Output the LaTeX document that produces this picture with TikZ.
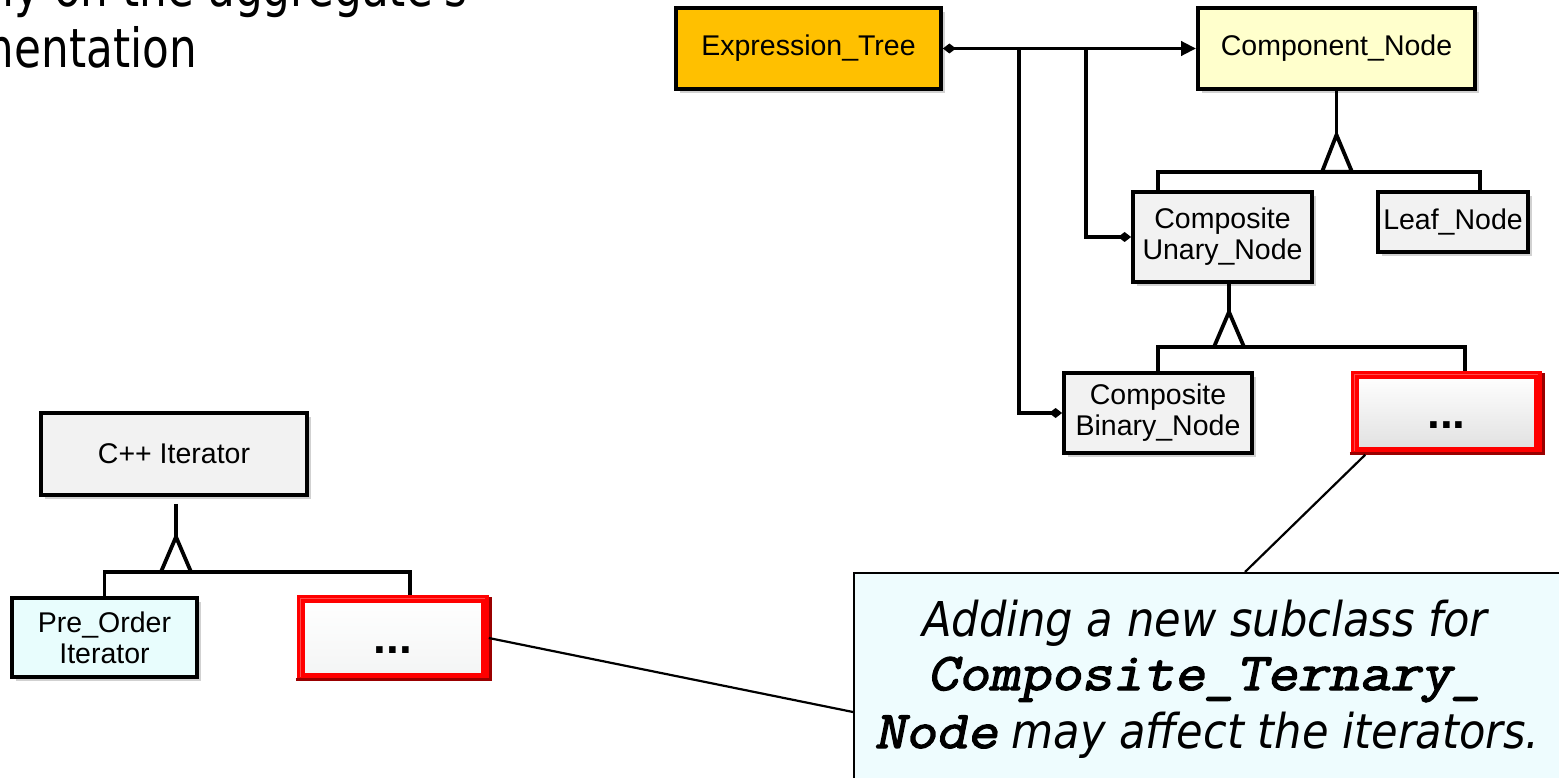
\documentclass[tikz,border=0pt]{standalone}
\usepackage{fontspec}
\setmainfont{Liberation Sans}
\newfontfamily\tahoma{DejaVu Sans Condensed}
\newfontfamily\tahomanar{DejaVu Sans Condensed}[FakeStretch=0.9]
\newfontfamily\cour{Latin Modern Mono}[FakeStretch=1.13,FakeBold=2.5,FakeSlant=0.2]
\usetikzlibrary{arrows.meta,shadows,calc}
\definecolor{etfill}{HTML}{FFC000}
\definecolor{cnfill}{HTML}{FFFFCC}
\definecolor{grayfill}{HTML}{F2F2F2}
\definecolor{cyanfill}{HTML}{E8FDFD}
\definecolor{calfill}{HTML}{EEFCFE}
\definecolor{redb}{HTML}{FF0000}
\definecolor{darkredb}{HTML}{9A0000}
\tikzset{
  shd/.style={drop shadow={shadow xshift=4pt,shadow yshift=-4pt,opacity=0.3,fill=black!60}},
  cls/.style={draw,line width=3.8pt,inner sep=0pt,align=center,shd,
    font=\fontsize{28.5}{31}\selectfont},
  redbox/.style={draw=redb,line width=7.5pt,inner sep=0pt,shd,
    font=\fontsize{46}{46}\selectfont\bfseries},
  conn/.style={line width=3.8pt},
  inh/.style={line width=3.8pt,fill=white,line join=miter},
  note/.style={line width=2.2pt},
}
\begin{document}
\begin{tikzpicture}[x=1pt,y=-1pt]
\useasboundingbox (0,0) rectangle (1559,778);
\clip (0,0) rectangle (1559,778);
% heading text (clipped)
\node[anchor=base east,inner sep=0,font=\tahomanar\fontsize{54}{60}\selectfont] (h1) at (468,7) {rely heavily on the aggregate's};
\node[anchor=base east,inner sep=0,font=\tahomanar\fontsize{54}{60}\selectfont] (h2) at (197,68) {implementation};
% top classes
\node[cls,fill=etfill,minimum width=265pt,minimum height=81pt] (ET) at (808.5,48.5) {Expression\_Tree};
\node[cls,fill=cnfill,minimum width=277pt,minimum height=81pt] (CN) at (1336.5,48.5) {Component\_Node};
\node[cls,fill=grayfill,minimum width=179pt,minimum height=90pt] (CU) at (1222.5,237) {Composite\\Unary\_Node};
\node[cls,fill=grayfill,minimum width=150pt,minimum height=60pt] (LN) at (1453,222) {Leaf\_Node};
\node[cls,fill=grayfill,minimum width=188pt,minimum height=80pt] (CB) at (1158,413) {Composite\\Binary\_Node};
\node[redbox,top color=white,bottom color=black!12,minimum width=183pt,minimum height=76pt] (D1) at (1446.5,413) {\smash{\raisebox{-15pt}{...}}};
% left classes
\node[cls,fill=grayfill,minimum width=266pt,minimum height=82pt] (CI) at (174,454) {C++ Iterator};
\node[cls,fill=cyanfill,minimum width=185pt,minimum height=79pt] (PO) at (104.5,637.5) {Pre\_Order\\Iterator};
\node[redbox,top color=white,bottom color=cyanfill!60!black!10,minimum width=184pt,minimum height=78pt] (D2) at (393,638) {\smash{\raisebox{-15pt}{...}}};
% bevel on red boxes
\foreach \b in {D1,D2}{
  \draw[darkredb,line width=3pt] ([shift={(-1.5pt,1.5pt)}]\b.south west) -- ([shift={(1.5pt,1.5pt)}]\b.south east) -- ([shift={(1.5pt,-1.5pt)}]\b.north east);
  \draw[redb!70!white,line width=1pt] ([shift={(3.5pt,4pt)}]\b.south west) -- ([shift={(3.5pt,-3.5pt)}]\b.north west) -- ([shift={(-4pt,-3.5pt)}]\b.north east);
}
% callout
\node[draw,line width=1.8pt,fill=calfill,minimum width=706pt,minimum height=230pt,anchor=north west,inner sep=0pt] (CA) at (853,572) {};
\node[anchor=base,inner sep=0pt,font=\tahoma\itshape\fontsize{48}{58}\selectfont] (t1) at (1205,636) {Adding a new subclass for};
\node[anchor=base,inner sep=0pt,font=\cour\upshape\fontsize{53}{58}\selectfont] (t2) at (1205,690) {Composite\_Ternary\_};
\node[anchor=base,inner sep=0pt,font=\tahoma\itshape\fontsize{48}{58}\selectfont] (t3) at (1207,748) {{\cour\upshape\fontsize{53}{58}\selectfont Node}\ may affect the iterators.};
% aggregation / association
\draw[conn,{Diamond[length=13pt,width=10pt]}-{Triangle[length=15pt,width=14pt]}] (ET.east) -- (CN.west);
\coordinate (j1) at ($(ET.east)!0.3!(CN.west)$);
\coordinate (j2) at ($(ET.east)!0.565!(CN.west)$);
\draw[conn,-{Diamond[length=13pt,width=10pt]}] (j2) |- (CU.west);
\draw[conn,-{Diamond[length=13pt,width=10pt]}] (j1) |- (CB.west);
% inheritance 1
\coordinate (b1) at ($(CN.south)+(0.5,81)$);
\draw[conn] (CN.south) -- ++(0,44) coordinate (a1);
\draw[conn] ([xshift=-64.5pt]CU.north) |- (b1) -| ([xshift=27pt]LN.north);
\draw[inh] (a1) -- ($(b1)+(-15,0)$) -- ($(b1)+(15,0)$) -- cycle;
% inheritance 2
\coordinate (b2) at ($(CU.south)+(6.5,63)$);
\draw[conn] ([xshift=6.5pt]CU.south) -- ++(0,28) coordinate (a2);
\draw[conn] (CB.north) |- (b2) -| ([xshift=18.5pt]D1.north);
\draw[inh] (a2) -- ($(b2)+(-15,0)$) -- ($(b2)+(15,0)$) -- cycle;
% inheritance 3
\coordinate (b3) at ($(CI.south)+(2,75)$);
\draw[conn] ([xshift=2pt,yshift=-7pt]CI.south) -- ++(0,33) coordinate (a3);
\draw[conn] (PO.north) |- (b3) -| ([xshift=17pt]D2.north);
\draw[inh] (a3) -- ($(b3)+(-15,0)$) -- ($(b3)+(15,0)$) -- cycle;
% note connectors
\draw[note] ([xshift=14pt]D1.south west) -- ([xshift=392pt]CA.north west);
\draw[note] (D2.east) -- ([yshift=-140pt]CA.north west);
\end{tikzpicture}
\end{document}
